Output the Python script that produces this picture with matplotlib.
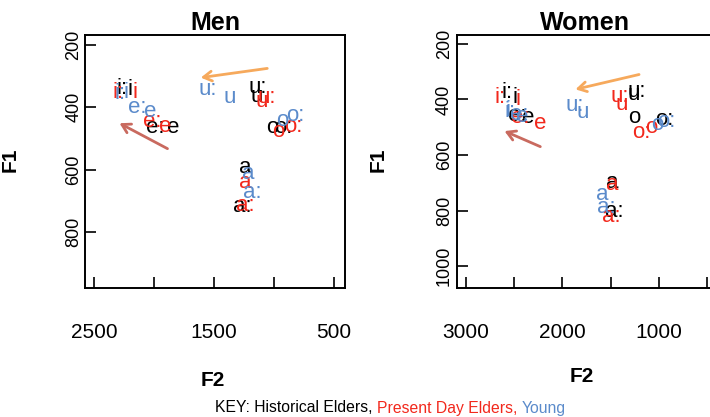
import matplotlib
matplotlib.use("Agg")
import matplotlib.pyplot as plt

plt.rcParams['font.family'] = ['Liberation Sans', 'DejaVu Sans']

# vowel labels shared by every group
vowels = ['i:', 'i', 'e:', 'e', 'u:', 'u', 'o', 'o:', 'a', 'a:']

# Men: F2 / F1 for each group (Hz)
men_hist_f2 = [2267, 2200, 1992, 1842, 1133, 1142, 1017, 925, 1242, 1267]
men_hist_f1 = [341, 344, 466, 466, 338, 364, 466, 466, 592, 720]
men_pres_f2 = [2300, 2158, 2017, 1908, 1058, 1100, 967, 842, 1242, 1242]
men_pres_f1 = [351, 351, 447, 463, 370, 383, 479, 463, 643, 714]
men_young_f2 = [2283, 2233, 2142, 2033, 1550, 1367, 933, 825, 1217, 1183]
men_young_f1 = [357, 351, 402, 415, 344, 367, 441, 425, 611, 675]

# Women
wom_hist_f2 = [2576, 2493, 2472, 2358, 1230, 1261, 1251, 940, 1479, 1458]
wom_hist_f1 = [376, 394, 459, 466, 373, 384, 466, 474, 700, 805]
wom_pres_f2 = [2648, 2462, 2441, 2234, 1406, 1385, 1075, 1178, 1489, 1489]
wom_pres_f1 = [394, 402, 466, 488, 391, 420, 502, 520, 708, 823]
wom_young_f2 = [2545, 2560, 2451, 2420, 1872, 1789, 1013, 920, 1592, 1541]
wom_young_f1 = [445, 440, 456, 463, 423, 448, 492, 481, 744, 790]

# arrows: (tail F2, tail F1, head F2, head F1)
men_arrow_back = (1033, 274, 1633, 306)
men_arrow_front = (1867, 537, 2308, 447)
wom_arrow_back = (1178, 308, 1893, 366)
wom_arrow_front = (2203, 574, 2627, 510)

men_xticks = [2500, 2000, 1500, 1000, 500]
men_xticklabels = ['2500', '', '1500', '', '500']
men_yticks = [200, 400, 600, 800]
wom_xticks = [3000, 2500, 2000, 1500, 1000, 500]
wom_xticklabels = ['3000', '', '2000', '', '1000', '']
wom_yticks = [200, 400, 600, 800, 1000]

c_hist = '#000000'
c_pres = '#f2281c'
c_young = '#5b8bcb'
c_orange = '#f6a95c'
c_brown = '#c96a5f'

W, H = 710, 417
fig = plt.figure(figsize=(W / 100, H / 100), dpi=100)


def box(l, t, r, b):
    return [l / W, 1 - b / H, (r - l) / W, (b - t) / H]


def panel(ax, groups, arrows, xlim, ylim, xticks, xlabels, yticks, ypad):
    for f2, f1, col in groups:
        for v, x, y in zip(vowels, f2, f1):
            ax.text(x, y, v, color=col, fontsize=16, ha='center', va='center')
    for (x0, y0, x1, y1), col in arrows:
        ax.annotate('', xy=(x1, y1), xytext=(x0, y0),
                    arrowprops=dict(arrowstyle='->,head_length=0.6,head_width=0.35',
                                    color=col, lw=2))
    ax.set_xlim(*xlim)
    ax.set_ylim(*ylim)
    ax.set_xticks(xticks)
    ax.set_xticklabels(xlabels)
    ax.set_yticks(yticks)
    ax.set_yticklabels([str(t) for t in yticks], rotation=90, va='center')
    ax.tick_params(direction='in', length=8, width=1.2)
    ax.tick_params(axis='x', labelsize=15, pad=25)
    ax.tick_params(axis='y', labelsize=13, pad=ypad)
    for s in ax.spines.values():
        s.set_linewidth(1.4)


ax1 = fig.add_axes(box(85, 35, 345, 288))
panel(ax1,
      [(men_hist_f2, men_hist_f1, c_hist),
       (men_pres_f2, men_pres_f1, c_pres),
       (men_young_f2, men_young_f1, c_young)],
      [(men_arrow_back, c_orange), (men_arrow_front, c_brown)],
      (2575, 408), (980, 168), men_xticks, men_xticklabels, men_yticks, 2)
ax1.set_title('Men', fontsize=18, fontweight='bold', pad=3)

ax2 = fig.add_axes(box(457, 35, 712, 288))
panel(ax2,
      [(wom_hist_f2, wom_hist_f1, c_hist),
       (wom_pres_f2, wom_pres_f1, c_pres),
       (wom_young_f2, wom_young_f1, c_young)],
      [(wom_arrow_back, c_orange), (wom_arrow_front, c_brown)],
      (3093, 450), (1079, 168), wom_xticks, wom_xticklabels, wom_yticks, 3)
ax2.set_title('Women', fontsize=18, fontweight='bold', pad=3)

fig.text(10 / W, 1 - 160 / H, 'F1', rotation=90, fontsize=15, fontweight='bold',
         ha='center', va='center')
fig.text(378 / W, 1 - 160 / H, 'F1', rotation=90, fontsize=15, fontweight='bold',
         ha='center', va='center')
fig.text(213 / W, 1 - 381 / H, 'F2', fontsize=15, fontweight='bold',
         ha='center', va='center')
fig.text(582 / W, 1 - 377 / H, 'F2', fontsize=15, fontweight='bold',
         ha='center', va='center')

t1 = fig.text(215 / W, 1 - 408 / H, 'KEY: Historical Elders, ', fontsize=11.3,
              ha='left', va='center', color=c_hist)
a2 = fig.add_artist(plt.Annotation('Present Day Elders, ', xy=(1, 0), xycoords=t1,
                                   va='bottom', ha='left', fontsize=11.3, color=c_pres))
a3 = fig.add_artist(plt.Annotation('Young', xy=(1, 0), xycoords=a2,
                                   va='bottom', ha='left', fontsize=11.3, color=c_young))

fig.savefig('out.png', dpi=100)
